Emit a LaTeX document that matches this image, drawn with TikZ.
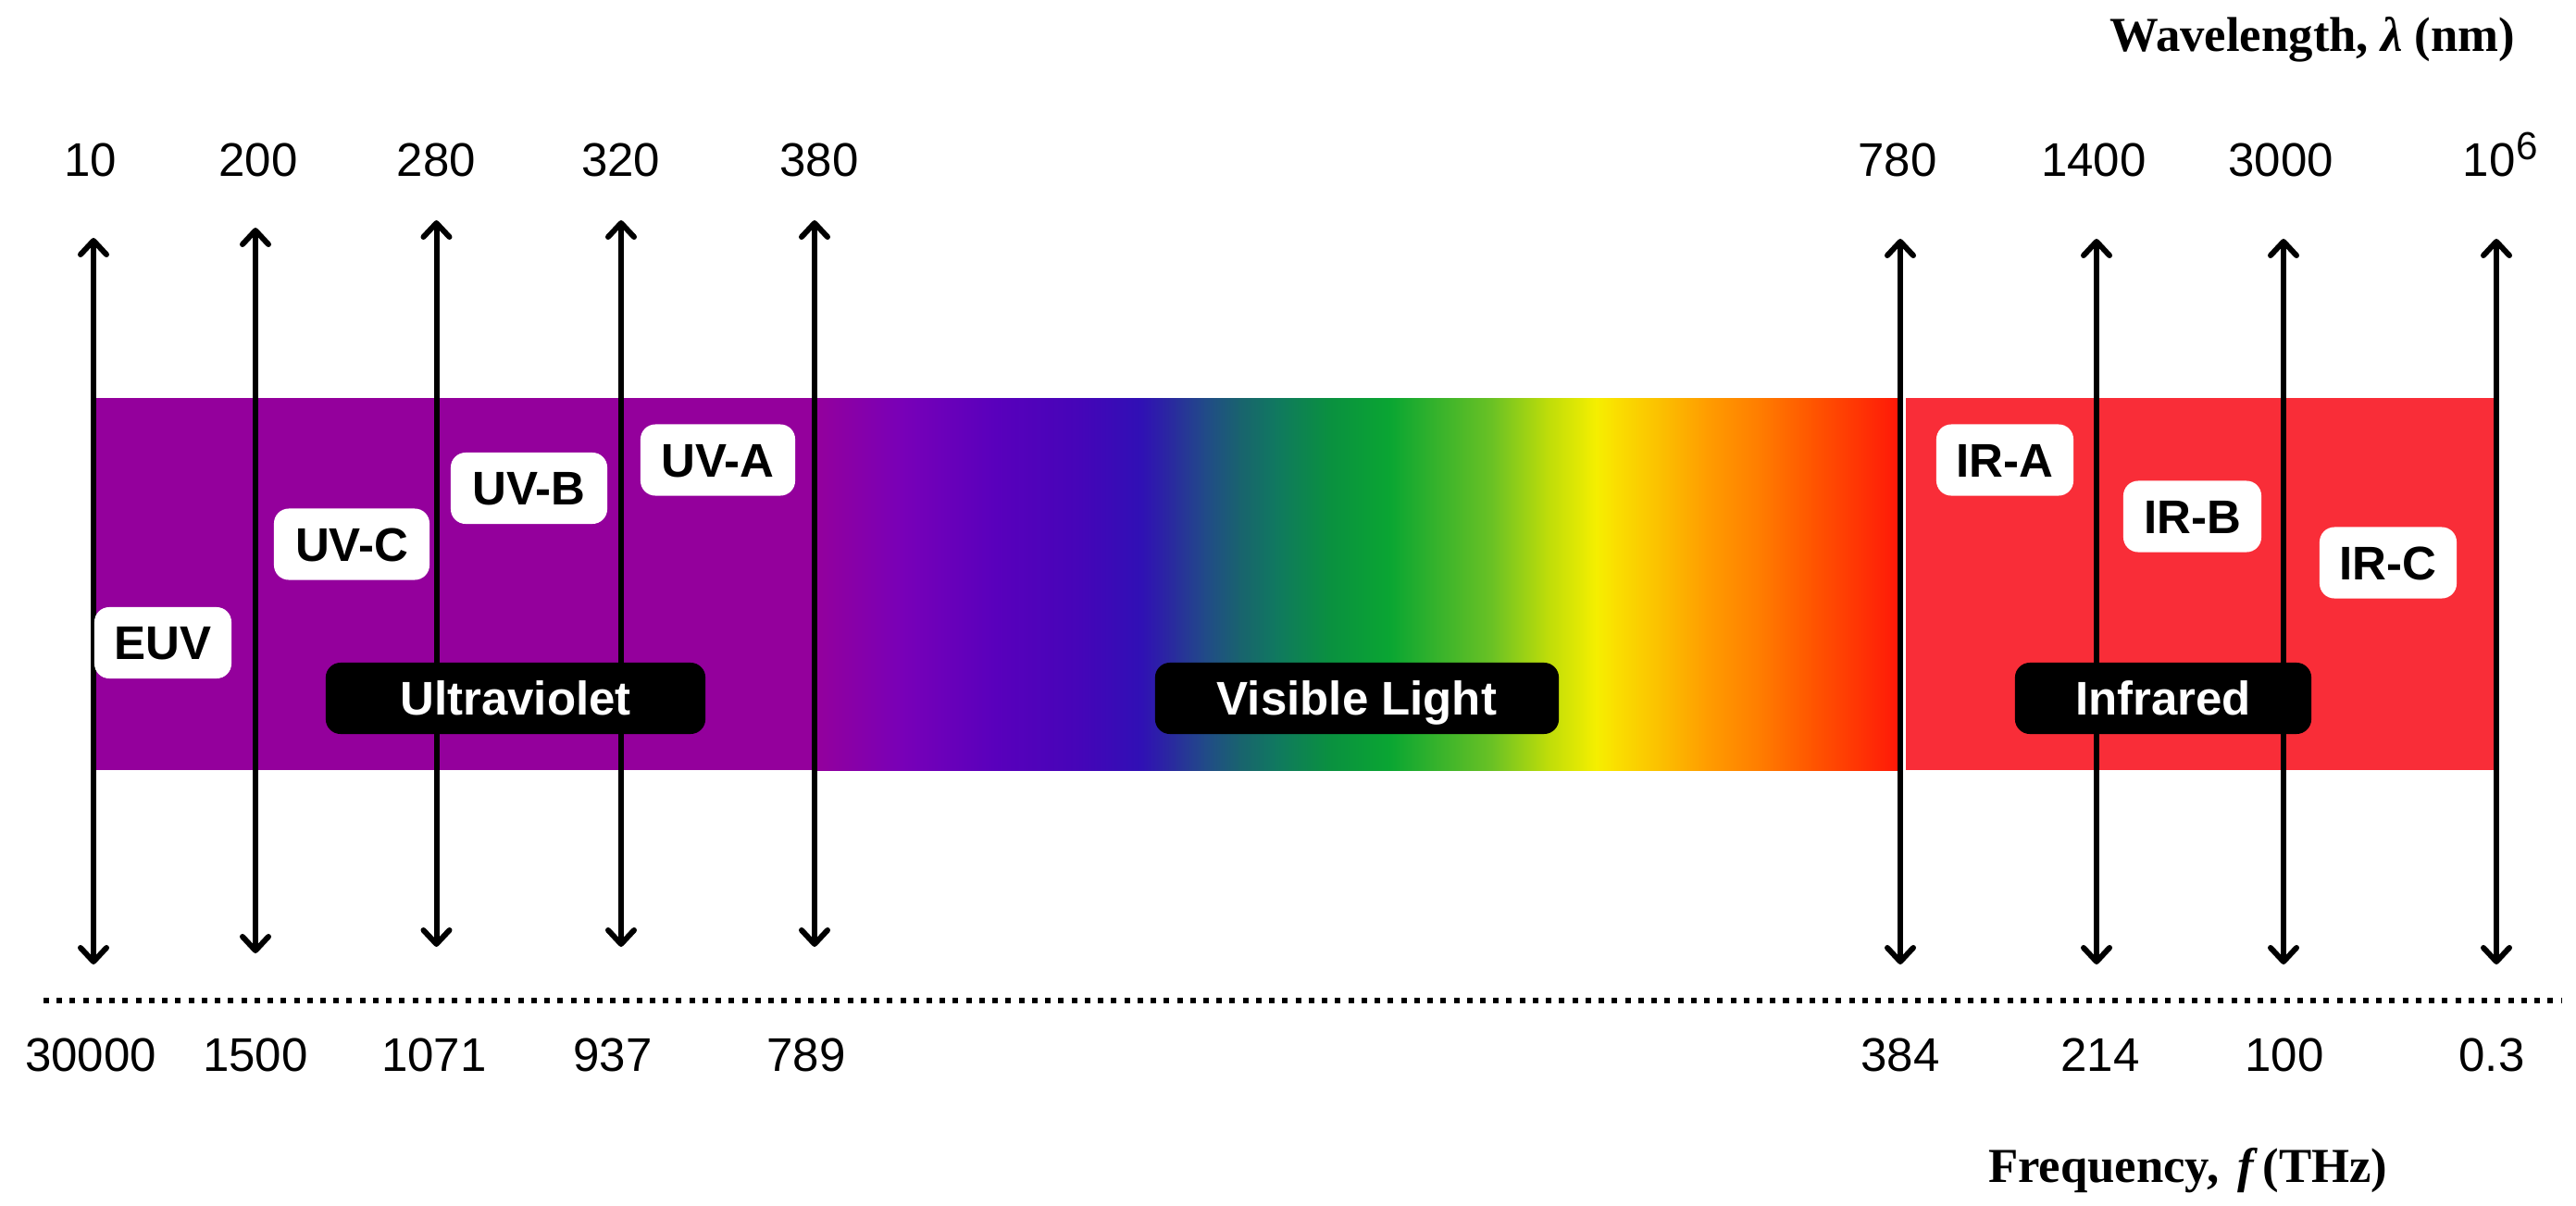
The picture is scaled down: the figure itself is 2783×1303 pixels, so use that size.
\documentclass[tikz,border=0pt]{standalone}
\usepackage{fontspec}
\setmainfont{Liberation Sans}
\newfontfamily\titlefont{Liberation Serif}
\usetikzlibrary{arrows.meta}
\definecolor{uvpurple}{HTML}{94009C}
\definecolor{irred}{HTML}{F92D38}
\definecolor{g0}{HTML}{94009C}
\definecolor{g1}{HTML}{7800B8}
\definecolor{g2}{HTML}{5A00BC}
\definecolor{g3}{HTML}{4505B8}
\definecolor{g4}{HTML}{3010B5}
\definecolor{g5}{HTML}{2A28A0}
\definecolor{g6}{HTML}{214A88}
\definecolor{g7}{HTML}{19636E}
\definecolor{g8}{HTML}{107860}
\definecolor{g9}{HTML}{0A9040}
\definecolor{g10}{HTML}{0AA632}
\definecolor{g11}{HTML}{6CC224}
\definecolor{g12}{HTML}{BCDC0A}
\definecolor{g13}{HTML}{F5EF00}
\definecolor{g14}{HTML}{FAE000}
\definecolor{g15}{HTML}{FBC000}
\definecolor{g16}{HTML}{FF9D00}
\definecolor{g17}{HTML}{FF7D00}
\definecolor{g18}{HTML}{FF5500}
\definecolor{g19}{HTML}{FF1808}
\tikzset{
  numlbl/.style={anchor=base, inner sep=0pt, font=\fontsize{14.5}{17}\selectfont},
  subbox/.style={fill=white, text=black, rounded corners=0.16cm, inner sep=0pt,
    minimum height=0.77cm, text height=0.365cm, text depth=0pt,
    font=\bfseries\fontsize{14.5}{17}\selectfont},
  bandbox/.style={fill=black, text=white, rounded corners=0.16cm, inner sep=0pt,
    minimum height=0.77cm, text height=0.365cm, text depth=0pt,
    font=\bfseries\fontsize{14.5}{17}\selectfont},
  dblarrow/.style={line width=0.06cm, line cap=round,
    {Straight Barb[length=0.15cm,width=0.28cm,line cap=round,line join=round]}-{Straight Barb[length=0.15cm,width=0.28cm,line cap=round,line join=round]}},
  axistitle/.style={anchor=base east, inner sep=0pt,
    font=\titlefont\bfseries\fontsize{15}{18}\selectfont},
  dotline/.style={line width=0.06cm, dash pattern=on 0.06cm off 0.0823cm}
}
\begin{document}
\begin{tikzpicture}[x=0.01cm, y=-0.01cm]
\useasboundingbox (0,0) rectangle (2783,1303);
\fill[white] (0,0) rectangle (2783,1303);

% band
\fill[uvpurple] (104,430) rectangle (884,832);
\foreach \xa/\xb/\ca/\cb in {880/976/g0/g1, 976/1071/g1/g2, 1071/1167/g2/g3,
   1167/1232/g3/g4, 1232/1263/g4/g5, 1263/1301/g5/g6, 1301/1339/g6/g7,
   1339/1377/g7/g8, 1377/1435/g8/g9, 1435/1502/g9/g10, 1502/1613/g10/g11,
   1613/1670/g11/g12, 1670/1724/g12/g13, 1724/1743/g13/g14, 1743/1793/g14/g15,
   1793/1843/g15/g16, 1843/1900/g16/g17, 1900/1958/g17/g18, 1958/2050/g18/g19}
  { \shade[left color=\ca, right color=\cb] (\xa,430) rectangle (\xb+1,832); }
\fill[irred] (2059,430) rectangle (2694,832);

% arrow end points
\coordinate (t1) at (101,257);   \coordinate (b1) at (101,1042);
\coordinate (t2) at (276,246);   \coordinate (b2) at (276,1030);
\coordinate (t3) at (471.5,238); \coordinate (b3) at (471.5,1023);
\coordinate (t4) at (671,238);   \coordinate (b4) at (671,1023);
\coordinate (t5) at (880,238);   \coordinate (b5) at (880,1023);
\coordinate (t6) at (2053,258);  \coordinate (b6) at (2053,1042);
\coordinate (t7) at (2265,258);  \coordinate (b7) at (2265,1042);
\coordinate (t8) at (2467,258);  \coordinate (b8) at (2467,1042);
\coordinate (t9) at (2697,258);  \coordinate (b9) at (2697,1042);
\foreach \i in {1,...,9} { \draw[dblarrow] (t\i) -- (b\i); }

% dotted axis line
\coordinate (dl) at (47,1081);
\coordinate (dr) at (2767,1081);
\draw[dotline] (dl) -- (dr);

% sub-band boxes
\node[subbox, minimum width=1.48cm] (euv) at (176,694.5) {EUV};
\node[subbox, minimum width=1.68cm] (uvc) at (380,588) {UV-C};
\node[subbox, minimum width=1.69cm] (uvb) at (571.5,527.5) {UV-B};
\node[subbox, minimum width=1.67cm] (uva) at (775.5,497) {UV-A};
\node[subbox, minimum width=1.48cm] (ira) at (2166,497) {IR-A};
\node[subbox, minimum width=1.49cm] (irb) at (2368.5,558) {IR-B};
\node[subbox, minimum width=1.48cm] (irc) at (2580,608) {IR-C};

% band boxes
\node[bandbox, minimum width=4.10cm] (uv) at (557,754.5) {Ultraviolet};
\node[bandbox, minimum width=4.36cm] (vis) at (1466,754.5) {Visible Light};
\node[bandbox, minimum width=3.20cm] (ir) at (2337,754.5) {Infrared};

% wavelength labels
\node[numlbl] (w1) at (98,190) {10};
\node[numlbl] (w2) at (279,190) {200};
\node[numlbl] (w3) at (471.5,190) {280};
\node[numlbl] (w4) at (670.6,190) {320};
\node[numlbl] (w5) at (885,190) {380};
\node[numlbl] (w6) at (2050,190) {780};
\node[numlbl] (w7) at (2262,190) {1400};
\node[numlbl] (w8) at (2464,190) {3000};
\node[numlbl, anchor=base west] (w9) at (2660,190) {10\kern0.01cm\raisebox{0.17cm}{\fontsize{12}{14}\selectfont 6}};

% frequency labels
\node[numlbl] (f1) at (98,1157) {30000};
\node[numlbl] (f2) at (276,1157) {1500};
\node[numlbl] (f3) at (469,1157) {1071};
\node[numlbl] (f4) at (662,1157) {937};
\node[numlbl] (f5) at (871,1157) {789};
\node[numlbl] (f6) at (2053,1157) {384};
\node[numlbl] (f7) at (2269,1157) {214};
\node[numlbl] (f8) at (2468,1157) {100};
\node[numlbl] (f9) at (2692,1157) {0.3};

% axis titles
\node[axistitle] (wtitle) at (2718,55) {Wavelength, \textit{λ} (nm)};
\node[axistitle] (ftitle) at (2580,1277) {Frequency,\hspace{0.2cm}\textit{f}\hspace{0.05cm}(THz)};
\end{tikzpicture}
\end{document}
